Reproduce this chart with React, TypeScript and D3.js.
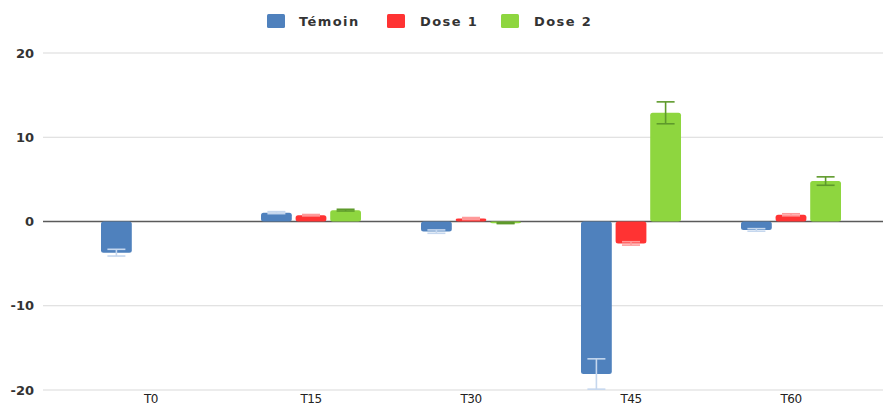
import React from "react";
import * as d3 from "d3";

const categories = ["T0", "T15", "T30", "T45", "T60"];
const seriesNames = ["Témoin", "Dose 1", "Dose 2"];
const temoinValues = [-3.7, 1.05, -1.2, -18.1, -1.0];
const temoinErrors = [0.4, 0.12, 0.2, 1.8, 0.15];
const dose1Values = [0, 0.75, 0.35, -2.6, 0.8];
const dose1Errors = [0, 0.08, 0.12, 0.2, 0.12];
const dose2Values = [0, 1.35, -0.2, 12.9, 4.8];
const dose2Errors = [0, 0.1, 0.05, 1.3, 0.5];
const yTicks = [-20, -10, 0, 10, 20];

const colors = ["#4F81BD", "#FF3333", "#8ED63F"];
const errColors = ["#C5D7EE", "#FF9A9A", "#5E9A2B"];

export default function App() {
  const W = 883, H = 409;
  const plotLeft = 43, plotRight = 883;
  const y = d3.scaleLinear().domain([-20, 20]).range([390, 53]);
  const x0 = d3.scaleBand<string>().domain(categories).range([71, 871]).paddingInner(0).paddingOuter(0);
  const x1 = d3.scaleBand<string>().domain(seriesNames).range([0, 100]).paddingInner(0.11).paddingOuter(0);
  const groupW = 100;
  const values = [temoinValues, dose1Values, dose2Values];
  const errors = [temoinErrors, dose1Errors, dose2Errors];
  const font = "'DejaVu Sans', Verdana, sans-serif";

  const legendItems = [
    { x: 267, tx: 299 },
    { x: 387, tx: 420 },
    { x: 501, tx: 534 },
  ];

  return (
    <svg width={W} height={H} style={{ position: "absolute", left: 0, top: 0, background: "#fff" }}>
      {yTicks.map((t) => (
        <g key={t}>
          <line x1={plotLeft} x2={plotRight} y1={y(t)} y2={y(t)} stroke={t === 0 ? "#5a5a5a" : "#d9d9d9"} strokeWidth={t === 0 ? 1.3 : 1.2} />
          <text x={34} y={y(t)} dy="0.35em" textAnchor="end" fontFamily={font} fontSize={13} fill="#333" fontWeight={600}>{t}</text>
        </g>
      ))}
      {categories.map((c, ci) => {
        const gx = (x0(c) as number) + x0.bandwidth() / 2 - groupW / 2;
        return (
          <g key={c}>
            {seriesNames.map((s, si) => {
              const v = values[si][ci];
              const e = errors[si][ci];
              if (v === 0 && e === 0) return null;
              const bx = gx + (x1(s) as number);
              const bw = x1.bandwidth();
              const y0 = y(0), yv = y(v);
              const top = Math.min(y0, yv), h = Math.abs(y0 - yv);
              const cx = bx + bw / 2;
              return (
                <g key={s}>
                  <rect x={bx} y={top} width={bw} height={Math.max(h, 1.5)} rx={2.5} fill={colors[si]} />
                  {e > 0 && (
                    <g stroke={errColors[si]} strokeWidth={1.6}>
                      <line x1={cx} x2={cx} y1={y(v - e)} y2={y(v + e)} />
                      <line x1={cx - 9} x2={cx + 9} y1={y(v - e)} y2={y(v - e)} />
                      <line x1={cx - 9} x2={cx + 9} y1={y(v + e)} y2={y(v + e)} />
                    </g>
                  )}
                </g>
              );
            })}
            <text x={(x0(c) as number) + x0.bandwidth() / 2} y={399} dy="0.35em" textAnchor="middle" fontFamily={font} fontSize={12} fill="#222" letterSpacing={-0.5}>{c}</text>
          </g>
        );
      })}
      {seriesNames.map((s, i) => (
        <g key={s}>
          <rect x={legendItems[i].x} y={14} width={18} height={14} rx={1.5} fill={colors[i]} />
          <text x={legendItems[i].tx} y={21} dy="0.35em" fontFamily={font} fontSize={13} fill="#333" fontWeight={600} letterSpacing={1.4}>{s}</text>
        </g>
      ))}
    </svg>
  );
}
